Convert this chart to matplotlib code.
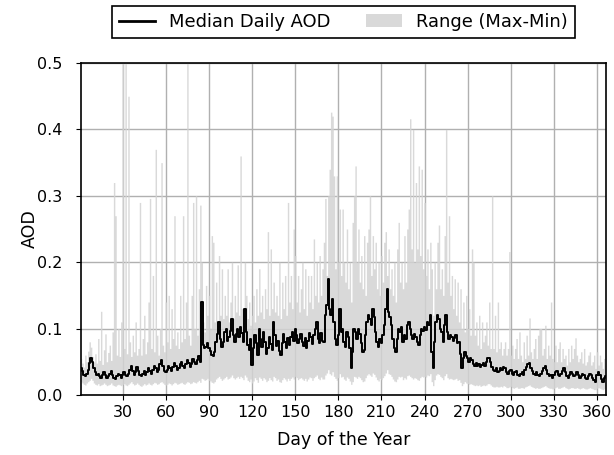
import numpy as np
import matplotlib
matplotlib.use('Agg')
import matplotlib.pyplot as plt

FILL_COLOR = 'lightgray'

# day of year 1..366
days = np.arange(1, 367)

# median daily AOD (rows of 10 days)
median_aod = [
    0.040, 0.036, 0.030, 0.028, 0.032, 0.038, 0.048, 0.055, 0.050, 0.040,
    0.034, 0.030, 0.032, 0.028, 0.026, 0.030, 0.034, 0.030, 0.026, 0.028,
    0.032, 0.036, 0.030, 0.026, 0.024, 0.028, 0.032, 0.030, 0.026, 0.030,
    0.034, 0.030, 0.028, 0.032, 0.038, 0.044, 0.036, 0.030, 0.034, 0.042,
    0.036, 0.030, 0.028, 0.032, 0.036, 0.030, 0.034, 0.040, 0.036, 0.032,
    0.038, 0.044, 0.040, 0.034, 0.038, 0.046, 0.052, 0.044, 0.036, 0.034,
    0.038, 0.044, 0.040, 0.036, 0.042, 0.048, 0.044, 0.038, 0.040, 0.046,
    0.050, 0.044, 0.040, 0.046, 0.052, 0.048, 0.042, 0.046, 0.054, 0.050,
    0.046, 0.052, 0.058, 0.050, 0.140, 0.075, 0.070, 0.072, 0.078, 0.070,
    0.066, 0.060, 0.058, 0.064, 0.080, 0.092, 0.110, 0.085, 0.072, 0.080,
    0.095, 0.100, 0.082, 0.088, 0.096, 0.115, 0.090, 0.080, 0.092, 0.100,
    0.088, 0.102, 0.094, 0.080, 0.130, 0.095, 0.075, 0.068, 0.085, 0.045,
    0.070, 0.090, 0.078, 0.060, 0.100, 0.085, 0.072, 0.095, 0.080, 0.062,
    0.070, 0.088, 0.076, 0.068, 0.110, 0.090, 0.074, 0.082, 0.066, 0.060,
    0.078, 0.092, 0.080, 0.070, 0.086, 0.075, 0.088, 0.095, 0.082, 0.100,
    0.090, 0.078, 0.085, 0.092, 0.080, 0.074, 0.086, 0.070, 0.082, 0.094,
    0.088, 0.076, 0.090, 0.100, 0.110, 0.085, 0.078, 0.094, 0.082, 0.080,
    0.120, 0.135, 0.175, 0.130, 0.120, 0.145, 0.110, 0.085, 0.075, 0.090,
    0.130, 0.095, 0.100, 0.080, 0.072, 0.095, 0.088, 0.070, 0.040, 0.065,
    0.100, 0.095, 0.085, 0.100, 0.092, 0.078, 0.065, 0.068, 0.090, 0.110,
    0.120, 0.115, 0.105, 0.130, 0.118, 0.095, 0.080, 0.072, 0.085, 0.078,
    0.090, 0.105, 0.130, 0.160, 0.125, 0.118, 0.105, 0.085, 0.070, 0.065,
    0.085, 0.100, 0.095, 0.102, 0.080, 0.090, 0.085, 0.105, 0.110, 0.100,
    0.090, 0.085, 0.092, 0.088, 0.080, 0.075, 0.090, 0.100, 0.096, 0.102,
    0.098, 0.110, 0.105, 0.120, 0.065, 0.040, 0.080, 0.110, 0.120, 0.115,
    0.100, 0.095, 0.080, 0.105, 0.120, 0.095, 0.085, 0.090, 0.088, 0.082,
    0.086, 0.090, 0.078, 0.080, 0.062, 0.040, 0.055, 0.065, 0.058, 0.055,
    0.050, 0.056, 0.052, 0.046, 0.044, 0.048, 0.044, 0.046, 0.042, 0.045,
    0.048, 0.044, 0.050, 0.055, 0.056, 0.050, 0.042, 0.038, 0.036, 0.040,
    0.034, 0.036, 0.040, 0.038, 0.042, 0.040, 0.034, 0.032, 0.036, 0.038,
    0.032, 0.030, 0.034, 0.036, 0.030, 0.028, 0.032, 0.034, 0.030, 0.038,
    0.042, 0.046, 0.048, 0.040, 0.036, 0.032, 0.030, 0.034, 0.030, 0.028,
    0.032, 0.036, 0.040, 0.044, 0.038, 0.032, 0.028, 0.030, 0.026, 0.030,
    0.034, 0.036, 0.030, 0.028, 0.032, 0.036, 0.040, 0.034, 0.028, 0.026,
    0.030, 0.034, 0.032, 0.028, 0.030, 0.034, 0.030, 0.026, 0.028, 0.032,
    0.030, 0.026, 0.024, 0.028, 0.032, 0.030, 0.026, 0.022, 0.020, 0.030,
    0.034, 0.030, 0.024, 0.020, 0.026, 0.028,
]

# daily maximum AOD
max_aod = [
    0.055, 0.048, 0.042, 0.060, 0.050, 0.066, 0.080, 0.072, 0.058, 0.050,
    0.062, 0.048, 0.085, 0.052, 0.126, 0.046, 0.068, 0.092, 0.050, 0.064,
    0.075, 0.052, 0.095, 0.320, 0.270, 0.060, 0.100, 0.058, 0.110, 0.520,
    0.070, 0.510, 0.062, 0.450, 0.080, 0.058, 0.090, 0.065, 0.110, 0.060,
    0.070, 0.290, 0.060, 0.085, 0.120, 0.062, 0.080, 0.140, 0.296, 0.070,
    0.180, 0.065, 0.370, 0.090, 0.060, 0.100, 0.350, 0.075, 0.065, 0.140,
    0.080, 0.150, 0.070, 0.130, 0.085, 0.270, 0.075, 0.095, 0.070, 0.150,
    0.080, 0.270, 0.085, 0.140, 0.520, 0.090, 0.075, 0.150, 0.290, 0.100,
    0.300, 0.090, 0.160, 0.286, 0.200, 0.110, 0.095, 0.165, 0.120, 0.150,
    0.100, 0.240, 0.230, 0.110, 0.170, 0.105, 0.210, 0.120, 0.190, 0.115,
    0.150, 0.120, 0.190, 0.110, 0.140, 0.200, 0.115, 0.150, 0.125, 0.196,
    0.120, 0.360, 0.130, 0.110, 0.200, 0.150, 0.115, 0.140, 0.105, 0.120,
    0.150, 0.110, 0.160, 0.120, 0.190, 0.125, 0.150, 0.115, 0.160, 0.130,
    0.246, 0.120, 0.220, 0.130, 0.170, 0.125, 0.150, 0.120, 0.200, 0.115,
    0.170, 0.130, 0.180, 0.120, 0.290, 0.140, 0.180, 0.130, 0.250, 0.210,
    0.140, 0.180, 0.125, 0.160, 0.200, 0.130, 0.190, 0.120, 0.180, 0.140,
    0.180, 0.130, 0.235, 0.150, 0.200, 0.140, 0.210, 0.150, 0.190, 0.230,
    0.296, 0.180, 0.300, 0.340, 0.426, 0.420, 0.330, 0.190, 0.330, 0.200,
    0.280, 0.180, 0.280, 0.200, 0.170, 0.250, 0.160, 0.200, 0.140, 0.260,
    0.300, 0.345, 0.200, 0.250, 0.170, 0.210, 0.160, 0.240, 0.150, 0.230,
    0.250, 0.300, 0.180, 0.240, 0.190, 0.230, 0.160, 0.200, 0.150, 0.210,
    0.170, 0.230, 0.246, 0.180, 0.220, 0.160, 0.190, 0.150, 0.200, 0.140,
    0.220, 0.260, 0.170, 0.200, 0.160, 0.240, 0.170, 0.250, 0.280, 0.416,
    0.220, 0.400, 0.200, 0.320, 0.220, 0.345, 0.210, 0.340, 0.190, 0.290,
    0.180, 0.220, 0.160, 0.230, 0.190, 0.120, 0.200, 0.160, 0.230, 0.256,
    0.160, 0.190, 0.150, 0.240, 0.400, 0.170, 0.270, 0.150, 0.180, 0.130,
    0.175, 0.120, 0.170, 0.110, 0.160, 0.100, 0.140, 0.095, 0.150, 0.100,
    0.130, 0.090, 0.220, 0.200, 0.090, 0.110, 0.075, 0.120, 0.070, 0.110,
    0.080, 0.090, 0.110, 0.075, 0.140, 0.070, 0.300, 0.070, 0.120, 0.065,
    0.140, 0.070, 0.080, 0.060, 0.070, 0.080, 0.060, 0.070, 0.216, 0.060,
    0.075, 0.055, 0.070, 0.085, 0.055, 0.095, 0.060, 0.050, 0.080, 0.055,
    0.090, 0.060, 0.116, 0.065, 0.055, 0.070, 0.085, 0.055, 0.090, 0.100,
    0.100, 0.060, 0.070, 0.105, 0.055, 0.075, 0.060, 0.140, 0.055, 0.050,
    0.075, 0.050, 0.070, 0.080, 0.050, 0.070, 0.055, 0.060, 0.045, 0.070,
    0.050, 0.075, 0.055, 0.070, 0.086, 0.060, 0.050, 0.055, 0.065, 0.048,
    0.070, 0.045, 0.050, 0.060, 0.065, 0.045, 0.050, 0.060, 0.040, 0.065,
    0.045, 0.060, 0.050, 0.040, 0.055, 0.045,
]

# daily minimum AOD
min_aod = [
    0.020, 0.018, 0.016, 0.015, 0.018, 0.020, 0.022, 0.025, 0.022, 0.018,
    0.016, 0.015, 0.017, 0.014, 0.015, 0.016, 0.018, 0.016, 0.014, 0.015,
    0.016, 0.018, 0.015, 0.014, 0.013, 0.015, 0.016, 0.015, 0.014, 0.016,
    0.017, 0.015, 0.014, 0.016, 0.018, 0.020, 0.017, 0.015, 0.016, 0.018,
    0.016, 0.014, 0.013, 0.015, 0.017, 0.015, 0.016, 0.018, 0.016, 0.015,
    0.017, 0.019, 0.018, 0.016, 0.017, 0.019, 0.020, 0.018, 0.016, 0.015,
    0.016, 0.018, 0.017, 0.015, 0.017, 0.019, 0.018, 0.016, 0.017, 0.018,
    0.019, 0.017, 0.016, 0.018, 0.020, 0.019, 0.017, 0.018, 0.020, 0.019,
    0.018, 0.020, 0.022, 0.019, 0.025, 0.024, 0.022, 0.023, 0.025, 0.022,
    0.021, 0.019, 0.018, 0.020, 0.024, 0.026, 0.028, 0.025, 0.022, 0.024,
    0.026, 0.028, 0.024, 0.025, 0.027, 0.030, 0.026, 0.024, 0.026, 0.028,
    0.025, 0.028, 0.026, 0.023, 0.030, 0.027, 0.022, 0.020, 0.024, 0.018,
    0.021, 0.026, 0.023, 0.019, 0.027, 0.025, 0.022, 0.026, 0.024, 0.020,
    0.022, 0.026, 0.023, 0.021, 0.028, 0.026, 0.022, 0.024, 0.020, 0.019,
    0.023, 0.026, 0.024, 0.021, 0.025, 0.022, 0.025, 0.027, 0.024, 0.028,
    0.026, 0.023, 0.025, 0.026, 0.024, 0.022, 0.025, 0.021, 0.024, 0.027,
    0.026, 0.022, 0.026, 0.028, 0.030, 0.025, 0.023, 0.027, 0.024, 0.024,
    0.030, 0.033, 0.038, 0.032, 0.030, 0.035, 0.028, 0.025, 0.022, 0.026,
    0.032, 0.027, 0.028, 0.024, 0.022, 0.027, 0.025, 0.021, 0.016, 0.020,
    0.028, 0.027, 0.025, 0.028, 0.026, 0.023, 0.020, 0.021, 0.026, 0.030,
    0.032, 0.030, 0.028, 0.033, 0.031, 0.027, 0.023, 0.021, 0.025, 0.023,
    0.026, 0.029, 0.033, 0.038, 0.032, 0.031, 0.028, 0.024, 0.021, 0.020,
    0.024, 0.028, 0.027, 0.028, 0.023, 0.026, 0.024, 0.029, 0.030, 0.028,
    0.026, 0.024, 0.026, 0.025, 0.023, 0.022, 0.026, 0.028, 0.027, 0.028,
    0.027, 0.030, 0.029, 0.032, 0.020, 0.014, 0.023, 0.030, 0.032, 0.031,
    0.028, 0.026, 0.023, 0.029, 0.032, 0.026, 0.024, 0.025, 0.024, 0.023,
    0.024, 0.025, 0.022, 0.023, 0.019, 0.014, 0.017, 0.020, 0.018, 0.017,
    0.016, 0.017, 0.016, 0.015, 0.014, 0.015, 0.014, 0.015, 0.013, 0.014,
    0.015, 0.014, 0.015, 0.017, 0.017, 0.015, 0.013, 0.012, 0.012, 0.013,
    0.012, 0.012, 0.013, 0.012, 0.014, 0.013, 0.011, 0.011, 0.012, 0.013,
    0.011, 0.010, 0.011, 0.012, 0.010, 0.010, 0.011, 0.011, 0.010, 0.012,
    0.013, 0.014, 0.015, 0.013, 0.012, 0.011, 0.010, 0.011, 0.010, 0.010,
    0.011, 0.012, 0.013, 0.014, 0.012, 0.011, 0.010, 0.010, 0.009, 0.010,
    0.011, 0.012, 0.010, 0.010, 0.011, 0.012, 0.013, 0.011, 0.010, 0.009,
    0.010, 0.011, 0.011, 0.010, 0.010, 0.011, 0.010, 0.009, 0.010, 0.011,
    0.010, 0.009, 0.009, 0.010, 0.011, 0.010, 0.009, 0.008, 0.008, 0.010,
    0.011, 0.010, 0.009, 0.008, 0.009, 0.010,
]

x_ticks = [30, 60, 90, 120, 150, 180, 210, 240, 270, 300, 330, 360]
y_ticks = [0.0, 0.1, 0.2, 0.3, 0.4, 0.5]


def load_plot_defaults():
    plt.rc('font', size=12.5)
    plt.rc('xtick', labelsize=11.5)
    plt.rc('ytick', labelsize=11.5)
    plt.rc('axes', linewidth=1.2)
    plt.rc('legend', fontsize=12.9)


def export_aod_plot():
    fig = plt.figure(figsize=(6.14, 4.55), dpi=100)
    ax = fig.add_axes([0.132, 0.132, 0.8545, 0.7295])

    ax.grid(True, color='#b0b0b0', linewidth=1.0, zorder=0)
    ax.set_axisbelow(True)

    rng = ax.fill_between(days, min_aod, max_aod, step='mid', color=FILL_COLOR,
                          alpha=0.85, linewidth=0, label='Range (Max-Min)',
                          zorder=1)
    med, = ax.plot(days, median_aod, color='black', linewidth=1.4,
                   drawstyle='steps-mid', label='Median Daily AOD', zorder=2)

    ax.set_xlim(1, 366)
    ax.set_ylim(0, 0.5)
    ax.set_xticks(x_ticks)
    ax.set_yticks(y_ticks)
    ax.tick_params(axis='y', pad=10)
    ax.set_xlabel('Day of the Year', labelpad=8)
    ax.set_ylabel('AOD')
    ax.yaxis.set_label_coords(-0.08, 0.5)

    leg = ax.legend(handles=[med, rng], loc='lower center',
                    bbox_to_anchor=(0.5, 1.075), ncol=2, borderaxespad=0,
                    fancybox=False, framealpha=1.0, edgecolor='black')
    leg.get_frame().set_linewidth(1.2)
    leg.get_lines()[0].set_linewidth(2.0)

    fig.savefig('out.png', dpi=100)
    plt.close(fig)


if __name__ == '__main__':
    load_plot_defaults()
    export_aod_plot()
